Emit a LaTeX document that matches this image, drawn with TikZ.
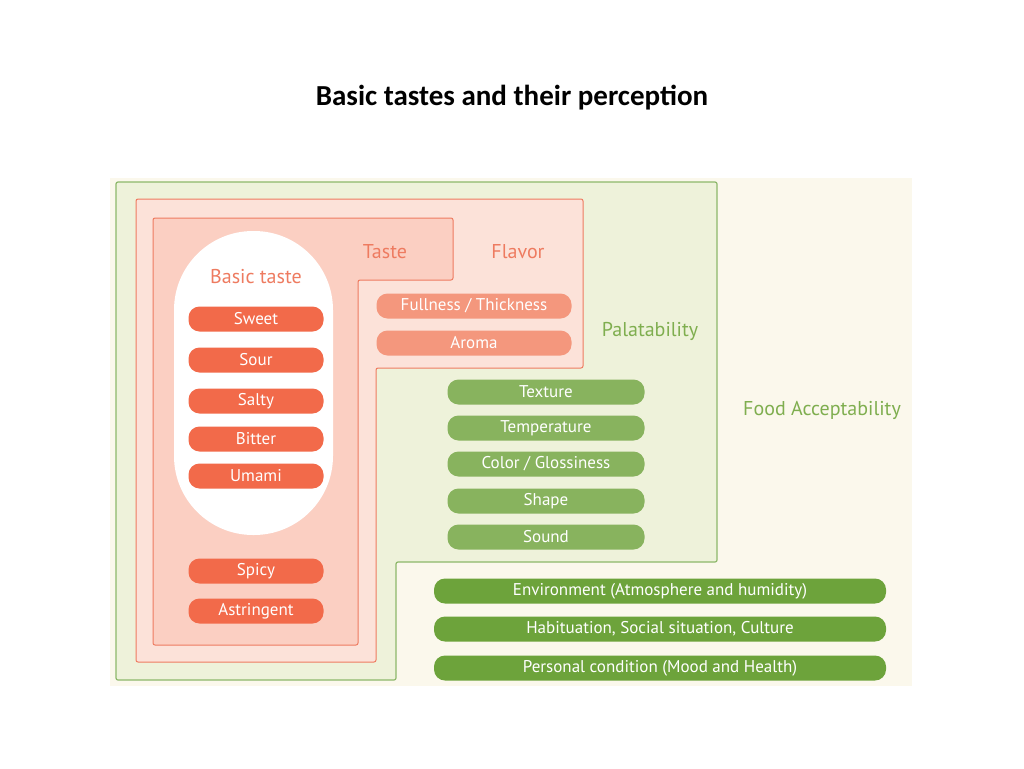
\documentclass[tikz,border=0pt]{standalone}
\usepackage{fontspec}
\setmainfont{PT Sans}
\newfontfamily\titlefont{Carlito}
\definecolor{cream}{HTML}{FBF8EC}
\definecolor{palfill}{HTML}{EEF2DA}
\definecolor{palline}{HTML}{8DB86A}
\definecolor{flafill}{HTML}{FCE2D9}
\definecolor{tasfill}{HTML}{FBCFC2}
\definecolor{redline}{HTML}{EE7B60}
\definecolor{redpill}{HTML}{F26A4A}
\definecolor{flapill}{HTML}{F4977D}
\definecolor{lgpill}{HTML}{88B35E}
\definecolor{dgpill}{HTML}{6DA33B}
\definecolor{grtext}{HTML}{7FAE4F}
\begin{document}
\begin{tikzpicture}[x=1pt,y=-1pt,
  pill/.style={rounded corners=11pt,text=white,font=\fontsize{17}{19}\selectfont,inner sep=0pt,minimum height=25pt,anchor=center},
  red/.style={pill,fill=redpill,minimum width=135pt},
  fla/.style={pill,fill=flapill,minimum width=195pt},
  lg/.style={pill,fill=lgpill,minimum width=197pt},
  dg/.style={pill,fill=dgpill,minimum width=452pt},
  lab/.style={font=\fontsize{20}{22}\selectfont}]
\useasboundingbox (0,0) rectangle (1024,768);
\node[font=\titlefont\bfseries\fontsize{29}{32}\selectfont] (title) at (512,98) {Basic tastes and their perception};
\fill[cream] (110,178) rectangle (912,686);
\draw[palline,fill=palfill,line width=1.2pt,rounded corners=2pt] (116,182)--(717,182)--(717,562)--(396,562)--(396,680)--(116,680)--cycle;
\draw[redline,fill=flafill,line width=1pt,rounded corners=2pt] (136,199)--(583,199)--(583,368)--(376,368)--(376,662)--(136,662)--cycle;
\draw[redline,fill=tasfill,line width=1pt,rounded corners=2pt] (153,218)--(453,218)--(453,280)--(358,280)--(358,645)--(153,645)--cycle;
\fill[white,rounded corners=79pt] (174,231) rectangle (333,535);
\node[lab,text=redline] (basic) at (256,277) {Basic taste};
\node[lab,text=redline] (taste) at (385,252) {Taste};
\node[lab,text=redline] (flavor) at (518,252) {Flavor};
\node[lab,text=grtext] (pal) at (650,331) {Palatability};
\node[lab,text=grtext] (food) at (822,410) {Food Acceptability};
\node[red] (sweet) at (256,319) {Sweet};
\node[red] (sour) at (256,360) {Sour};
\node[red] (salty) at (256,401) {Salty};
\node[red] (bitter) at (256,439) {Bitter};
\node[red] (umami) at (256,476) {Umami};
\node[red] (spicy) at (256,571) {Spicy};
\node[red] (astr) at (256,611) {Astringent};
\node[fla] (full) at (474,306) {Fullness / Thickness};
\node[fla] (aroma) at (474,343) {Aroma};
\node[lg] (tex) at (546,392) {Texture};
\node[lg] (temp) at (546,428) {Temperature};
\node[lg] (col) at (546,464) {Color / Glossiness};
\node[lg] (shape) at (546,501) {Shape};
\node[lg] (sound) at (546,537) {Sound};
\node[dg] (env) at (660,591) {Environment (Atmosphere and humidity)};
\node[dg] (hab) at (660,629) {Habituation, Social situation, Culture};
\node[dg] (pers) at (660,668) {Personal condition (Mood and Health)};
\end{tikzpicture}
\end{document}
